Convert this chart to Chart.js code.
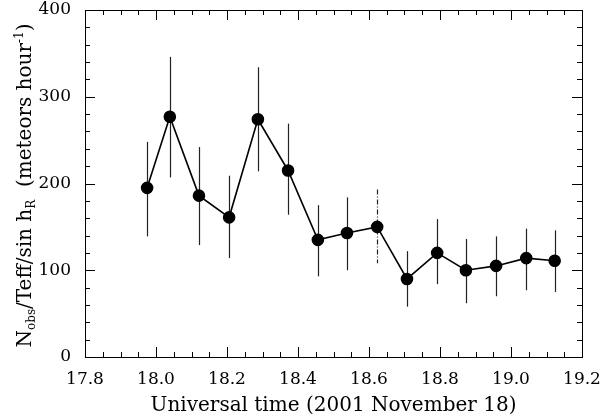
<!DOCTYPE html>
<html>
<head>
<meta charset="UTF-8">
<title>Meteor rate</title>
<script src="https://cdn.jsdelivr.net/npm/chart.js"></script>
<style>
  html, body { margin: 0; padding: 0; background: #fff; }
</style>
</head>
<body>
<canvas id="c" width="603" height="418"></canvas>
<script>
// Universal time (hours) and rate values
const times = [17.975, 18.039, 18.121, 18.206, 18.287, 18.372, 18.456, 18.538, 18.623, 18.707, 18.792, 18.873, 18.958, 19.043, 19.123];
const rates = [195, 277, 186, 161, 274, 215, 135, 143, 150, 90, 120, 100, 105, 114, 111];
const errHigh = [248, 346, 242, 209, 334, 269, 175, 184, 193, 122, 159, 136, 139, 148, 146];
const errLow = [139, 207, 129, 114, 214, 164, 93, 100, 108, 58, 84, 62, 70, 77, 75];
const dashedBar = 8; // the 18.62 bar is drawn dash-dot

const FONT = '"DejaVu Serif", serif';

// error bars, inward ticks, frame and the y title
const extras = {
  id: 'extras',
  beforeDatasetsDraw(chart) {
    const ctx = chart.ctx, xs = chart.scales.x, ys = chart.scales.y;
    ctx.save();
    ctx.strokeStyle = '#222';
    ctx.lineWidth = 1.2;
    times.forEach((t, i) => {
      const px = Math.round(xs.getPixelForValue(t)) + 0.5;
      ctx.setLineDash(i === dashedBar ? [5, 2, 1, 2] : []);
      ctx.beginPath();
      ctx.moveTo(px, ys.getPixelForValue(errHigh[i]));
      ctx.lineTo(px, ys.getPixelForValue(errLow[i]));
      ctx.stroke();
    });
    ctx.restore();
  },
  afterDraw(chart) {
    const ctx = chart.ctx, xs = chart.scales.x, ys = chart.scales.y;
    const a = chart.chartArea;
    ctx.save();
    ctx.strokeStyle = '#000';
    ctx.lineWidth = 1;
    ctx.strokeRect(a.left + 0.5, a.top + 0.5, a.right - a.left, a.bottom - a.top);
    ctx.beginPath();
    // x ticks: major 0.2, minor 0.05
    for (let k = 0; k <= 28; k++) {
      const v = 17.8 + k * 0.05;
      const px = Math.round(xs.getPixelForValue(v)) + 0.5;
      const len = (k % 4 === 0) ? 10 : 5;
      ctx.moveTo(px, a.bottom); ctx.lineTo(px, a.bottom - len);
      ctx.moveTo(px, a.top); ctx.lineTo(px, a.top + len);
    }
    // y ticks: major 100, minor 20
    for (let k = 0; k <= 20; k++) {
      const v = k * 20;
      const py = Math.round(ys.getPixelForValue(v)) + 0.5;
      const len = (k % 5 === 0) ? 10 : 5;
      ctx.moveTo(a.left, py); ctx.lineTo(a.left + len, py);
      ctx.moveTo(a.right, py); ctx.lineTo(a.right - len, py);
    }
    ctx.stroke();

    // y axis title with sub/superscripts
    const big = 20, small = 12;
    const parts = [
      ['N', big, 0], ['obs', small, 4], ['/Teff/sin h', big, 0], ['R', small, 4],
      ['  (meteors hour', big, 0], ['-1', small, -8], [')', big, 0]
    ];
    let total = 0;
    parts.forEach(p => { ctx.font = p[1] + 'px ' + FONT; total += ctx.measureText(p[0]).width; });
    ctx.translate(31, (a.top + a.bottom) / 2 + 2);
    ctx.rotate(-Math.PI / 2);
    ctx.fillStyle = '#000';
    ctx.textBaseline = 'alphabetic';
    let x = -total / 2;
    parts.forEach(p => {
      ctx.font = p[1] + 'px ' + FONT;
      ctx.fillText(p[0], x, p[2]);
      x += ctx.measureText(p[0]).width;
    });
    ctx.restore();
  }
};

new Chart(document.getElementById('c'), {
  type: 'scatter',
  data: {
    datasets: [{
      data: times.map((t, i) => ({ x: t, y: rates[i] })),
      showLine: true,
      borderColor: '#000',
      borderWidth: 1.6,
      backgroundColor: '#000',
      pointRadius: 5.5,
      pointHoverRadius: 5.5,
      pointBackgroundColor: '#000'
    }]
  },
  options: {
    responsive: false,
    animation: false,
    events: [],
    layout: { padding: { left: 0, top: 10, right: 21, bottom: 0 } },
    plugins: { legend: { display: false }, tooltip: { enabled: false } },
    scales: {
      x: {
        type: 'linear', min: 17.8, max: 19.2,
        afterFit(s) { s.height = 61; s.paddingLeft = 0; s.paddingRight = 0; },
        grid: { display: false, drawTicks: false },
        border: { display: false },
        ticks: {
          stepSize: 0.2, padding: 12, color: '#000', maxRotation: 0,
          font: { family: FONT, size: 17 },
          callback: v => v.toFixed(1)
        },
        title: {
          display: true, text: 'Universal time (2001 November 18)',
          color: '#000', font: { family: FONT, size: 20 }, padding: { top: 0, bottom: 0 }
        }
      },
      y: {
        min: 0, max: 400,
        afterFit(s) { s.width = 85; s.paddingTop = 0; s.paddingBottom = 0; },
        grid: { display: false, drawTicks: false },
        border: { display: false },
        ticks: { stepSize: 100, padding: 14, color: '#000', font: { family: FONT, size: 17 } }
      }
    }
  },
  plugins: [extras]
});
</script>
</body>
</html>
